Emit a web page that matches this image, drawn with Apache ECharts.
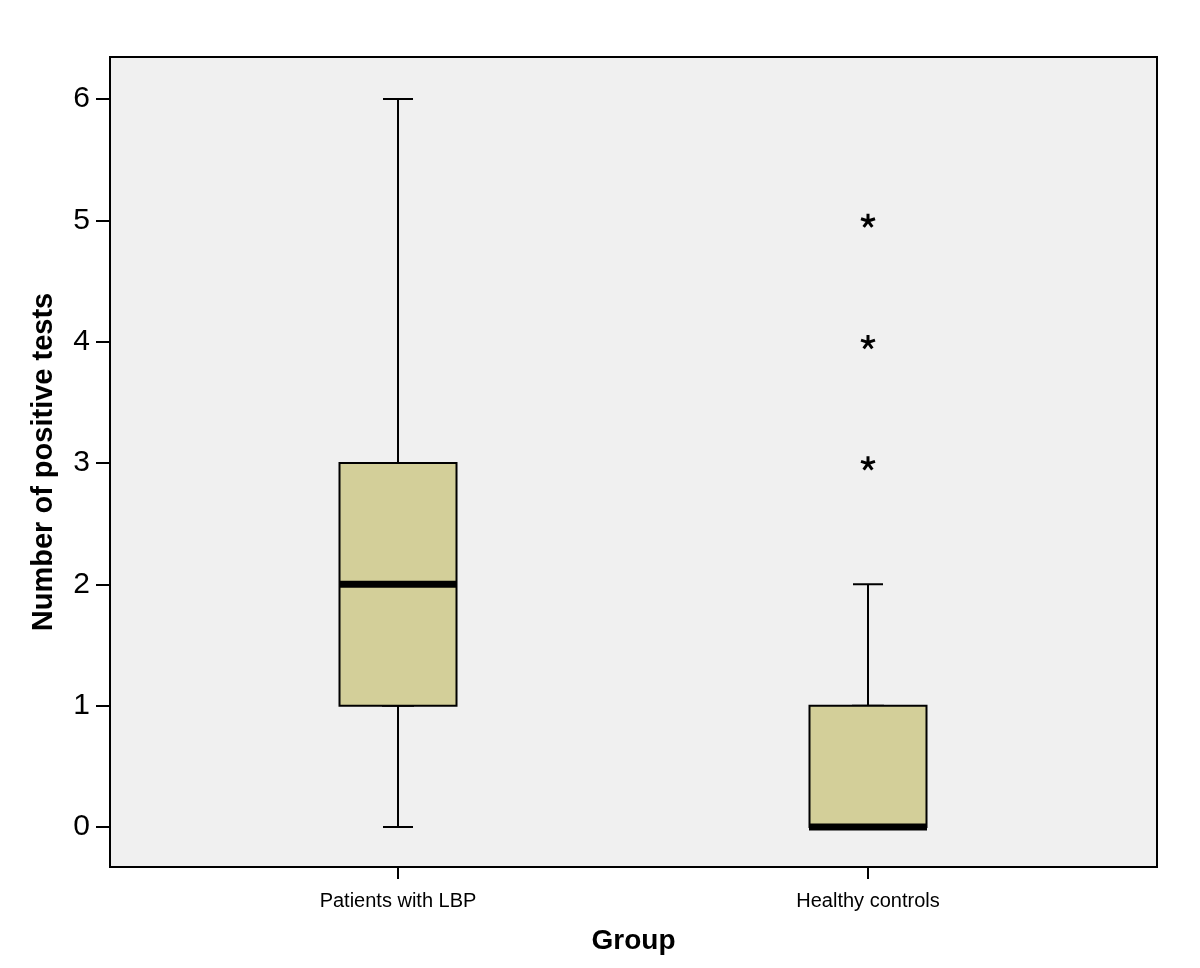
<!DOCTYPE html>
<html>
<head>
<meta charset="utf-8">
<script src="https://cdn.jsdelivr.net/npm/echarts@6/dist/echarts.min.js"></script>
<style>
html,body{margin:0;padding:0;background:#fff;}
#chart{width:1200px;height:968px;}
</style>
</head>
<body>
<div id="chart"></div>
<script>
// ---- data ----
const categories = ['Patients with LBP', 'Healthy controls'];
// [min, Q1, median, Q3, max]
const boxStats = [
  [0, 1, 2, 3, 6],
  [0, 0, 0, 1, 2]
];
// outliers: [group index, value]
const outliers = [[1, 3], [1, 4], [1, 5]];
const yTicks = [0, 1, 2, 3, 4, 5, 6];
const xTicks = [0, 1];

const whiskerData = boxStats.map((s, i) => [i].concat(s));
const boxData = boxStats.map((s, i) => [i, s[1], s[1], s[2], s[3], s[3]]);
const medianData = boxStats.map((s, i) => [i, s[2]]);

const FONT = "'Liberation Sans', Arial, Helvetica, sans-serif";
const asterisk = 'path://M12 12 L12 0 M12 12 L23.4 8.3 M12 12 L19.05 21.7 M12 12 L4.95 21.7 M12 12 L0.6 8.3';
const X_MIN = -0.6128, X_MAX = 1.6149;

const chart = echarts.init(document.getElementById('chart'), null, {renderer: 'canvas'});
chart.setOption({
  backgroundColor: '#ffffff',
  animation: false,
  grid: {
    left: 110, right: 43, top: 57, bottom: 101,
    show: true, backgroundColor: '#f0f0f0', borderColor: '#000', borderWidth: 2
  },
  xAxis: [{
    type: 'value',
    min: X_MIN, max: X_MAX,
    splitLine: {show: false},
    axisLine: {show: true, onZero: false, lineStyle: {color: '#000', width: 2}},
    axisTick: {show: true, length: 12, customValues: xTicks, lineStyle: {color: '#000', width: 2}},
    axisLabel: {
      customValues: xTicks, margin: 24,
      formatter: v => categories[Math.round(v)] || '',
      fontFamily: FONT, fontSize: 20, color: '#000'
    },
    name: 'Group', nameLocation: 'middle', nameGap: 60,
    nameTextStyle: {fontFamily: FONT, fontSize: 28, fontWeight: 'bold', color: '#000'}
  }, {
    type: 'value', position: 'bottom',
    min: X_MIN, max: X_MAX, show: false,
    splitLine: {show: false}
  }],
  yAxis: {
    type: 'value',
    min: -0.3297, max: 6.346,
    splitLine: {show: false},
    axisLine: {show: true, onZero: false, lineStyle: {color: '#000', width: 2}},
    axisTick: {show: true, length: 14, customValues: yTicks, lineStyle: {color: '#000', width: 2}},
    axisLabel: {
      customValues: yTicks, margin: 20,
      fontFamily: FONT, fontSize: 30, color: '#000'
    },
    name: 'Number of positive tests', nameLocation: 'middle', nameGap: 52,
    nameTextStyle: {fontFamily: FONT, fontSize: 29, fontWeight: 'bold', color: '#000'}
  },
  series: [
    {
      type: 'boxplot', layout: 'horizontal',
      xAxisIndex: 0,
      data: whiskerData,
      boxWidth: [30, 30],
      itemStyle: {color: '#d3cf99', borderColor: '#000', borderWidth: 2},
      z: 2
    },
    {
      type: 'boxplot', layout: 'horizontal',
      xAxisIndex: 1,
      data: boxData,
      boxWidth: [117, 117],
      itemStyle: {color: '#d3cf99', borderColor: '#000', borderWidth: 2},
      z: 3
    },
    {
      type: 'scatter',
      data: medianData,
      symbol: 'rect', symbolSize: [118, 7],
      itemStyle: {color: '#000', opacity: 1},
      z: 4
    },
    {
      type: 'scatter',
      data: outliers,
      symbol: asterisk, symbolSize: 14, symbolKeepAspect: true,
      itemStyle: {color: 'none', borderColor: '#000', borderWidth: 3, opacity: 1},
      z: 4
    }
  ]
});
</script>
</body>
</html>
